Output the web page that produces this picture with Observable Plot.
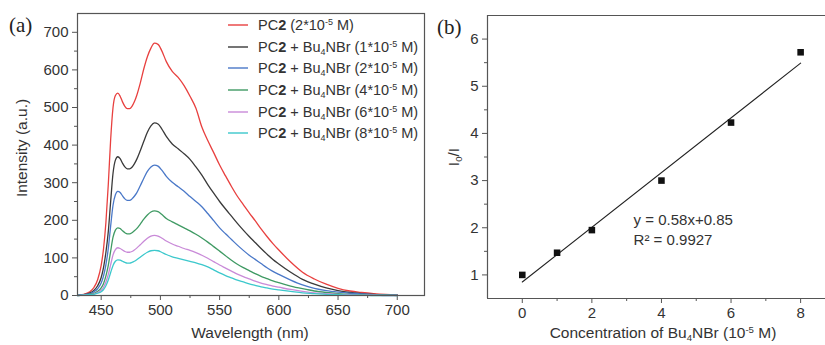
<!DOCTYPE html>
<html><head><meta charset="utf-8">
<script src="https://cdn.jsdelivr.net/npm/d3@7"></script>
<script src="https://cdn.jsdelivr.net/npm/@observablehq/plot@0.6"></script>
<style>
html,body{margin:0;padding:0;background:#fff;}
#wrap{position:relative;width:825px;height:345px;overflow:hidden;font-family:"Liberation Sans",Arial,sans-serif;color:#333;}
#wrap > svg{position:absolute;top:0;}
.lbl{position:absolute;white-space:nowrap;font-size:15.5px;line-height:1;color:#333;}
.c{transform:translate(-50%,-50%);}
.r{transform:translate(-50%,-50%) rotate(-90deg);}
.pl{position:absolute;font-family:"Liberation Serif","Times New Roman",serif;font-size:21px;line-height:1;color:#222;}
sup{font-size:0.62em;vertical-align:0.55em;line-height:0;}
sub{font-size:0.62em;vertical-align:-0.3em;line-height:0;}
.leg{position:absolute;left:228px;font-size:14.5px;line-height:1;white-space:nowrap;color:#333;}
.leg svg{display:inline-block;vertical-align:middle;margin-right:10px;position:relative;top:-1px;}
</style></head><body><div id="wrap"></div>
<script>
// ---- Panel (a): emission spectra ----
const wavelengths = [430,435,440,444,447,450,452,454,456,458,460,462,464,466,468,470,472,474,476,478,480,483,486,489,492,495,498,501,505,510,515,520,525,530,535,540,545,550,555,560,565,570,575,580,585,590,595,600,610,620,630,640,650,660,670,680,690,700];
const pc2 =    [1,3,9,22,42,80,125,195,295,415,500,532,538,530,515,503,497,497,503,515,532,565,603,635,658,671,668,652,622,596,580,558,530,498,448,412,380,347,318,290,264,242,220,199,177,157,138,121,89,62,44,30,19,12,8,5,3,2];
const bu1 =    [1,2,6,14,26,48,75,115,170,250,325,360,369,364,352,342,337,337,341,350,362,385,410,434,451,459,456,444,423,403,390,377,362,342,320,295,272,250,230,211,192,174,157,141,125,110,96,84,62,43,30,20,13,8,5,3,2,1];
const bu2 =    [1,2,4,10,18,33,52,82,125,185,240,268,277,274,265,257,253,253,257,264,273,292,312,330,342,347,344,334,317,301,289,277,263,250,236,218,199,180,164,149,134,120,107,96,85,74,64,56,41,28,19,13,9,6,4,2,1,1];
const bu4 =    [0,1,3,6,11,20,32,52,80,118,155,174,180,178,172,167,164,164,167,172,178,190,203,214,222,225,223,216,205,196,188,180,172,163,153,142,130,118,106,94,83,74,66,58,51,45,39,34,25,18,12,8,5,3,2,1,1,0];
const bu6 =    [0,1,2,4,8,14,22,36,56,82,108,122,127,125,121,117,115,115,117,121,126,135,144,152,158,160,158,153,145,137,131,125,120,114,107,99,90,81,73,65,57,50,44,38,33,29,25,22,16,11,7,5,3,2,1,1,0,0];
const bu8 =    [0,1,2,3,6,10,16,26,41,61,80,91,95,94,91,88,86,86,88,91,95,102,109,115,119,120,119,115,109,103,99,95,91,87,82,76,68,60,53,47,41,36,31,27,23,20,17,15,11,7,5,3,2,1,1,0,0,0];
const seriesNames = ["PC2","Bu1","Bu2","Bu4","Bu6","Bu8"];
const seriesColors = ["#e8403f","#3a3a3a","#4a78c8","#3f9a63","#c98ad8","#3cc8cc"];
const legendConc = ["2","1","2","4","6","8"];
const xTicksA = [450,500,550,600,650,700];
const xMinorA = [475,525,575,625,675];
const yTicksA = [0,100,200,300,400,500,600,700];
const yMinorA = [50,150,250,350,450,550,650];

// ---- Panel (b): Stern-Volmer ----
const conc = [0,1,2,4,6,8];
const ratio = [1.0,1.47,1.95,3.0,4.23,5.72];
const fitX = [0,8];
const fitY = [0.85,5.49];
const xTicksB = [0,2,4,6,8];
const xMinorB = [1,3,5,7];
const yTicksB = [1,2,3,4,5,6];
const yMinorB = [1.5,2.5,3.5,4.5,5.5];

const allSeries = [pc2,bu1,bu2,bu4,bu6,bu8];
const rows = [];
allSeries.forEach((vals,si)=>vals.forEach((v,i)=>rows.push({w:wavelengths[i],v,name:seriesNames[si]})));

const font = '"Liberation Sans",Arial,sans-serif';
const wrap = document.getElementById("wrap");
const axisColor = "#555";

const plotA = Plot.plot({
  width:430,height:345,marginLeft:77,marginRight:6,marginTop:13,marginBottom:50,
  style:{fontFamily:font,fontSize:"15px",color:"#333",background:"transparent",overflow:"visible"},
  x:{domain:[430,723]},
  y:{domain:[0,750]},
  color:{domain:seriesNames,range:seriesColors},
  marks:[
    Plot.axisX(xTicksA,{tickSize:5,tickPadding:4,label:null,stroke:axisColor}),
    Plot.axisX(xMinorA,{tickSize:3,text:null,label:null,stroke:axisColor}),
    Plot.axisY(yTicksA,{tickSize:5,tickPadding:4,label:null,stroke:axisColor}),
    Plot.axisY(yMinorA,{tickSize:3,text:null,label:null,stroke:axisColor}),
    Plot.line(rows,{x:"w",y:"v",z:"name",stroke:"name",strokeWidth:1.3,curve:"monotone-x"}),
    Plot.frame({stroke:axisColor,strokeWidth:1.2})
  ]
});
plotA.style.left="0px";
wrap.appendChild(plotA);

const fitRows = fitX.map((x,i)=>({x,y:fitY[i]}));
const ptRows = conc.map((x,i)=>({x,y:ratio[i]}));
const plotB = Plot.plot({
  width:395,height:345,marginLeft:57,marginRight:0,marginTop:15,marginBottom:47,
  style:{fontFamily:font,fontSize:"15px",color:"#333",background:"transparent",overflow:"visible"},
  x:{domain:[-1,8.715]},
  y:{domain:[0.5,6.5]},
  marks:[
    Plot.axisX(xTicksB,{tickSize:5,tickPadding:4,label:null,stroke:axisColor}),
    Plot.axisX(xMinorB,{tickSize:3,text:null,label:null,stroke:axisColor}),
    Plot.axisY(yTicksB,{tickSize:5,tickPadding:4,label:null,stroke:axisColor}),
    Plot.axisY(yMinorB,{tickSize:3,text:null,label:null,stroke:axisColor}),
    Plot.line(fitRows,{x:"x",y:"y",stroke:"#222",strokeWidth:1.1}),
    Plot.dot(ptRows,{x:"x",y:"y",symbol:"square",r:3.7,fill:"#111",stroke:"none"}),
    Plot.ruleY([0.5,6.5],{stroke:axisColor,strokeWidth:1.2}),
    Plot.ruleX([-1],{stroke:axisColor,strokeWidth:1.2}),
    Plot.text(["y = 0.58x+0.85"],{x:3.2,y:2.15,text:d=>d,textAnchor:"start",fontSize:15,fill:"#333"}),
    Plot.text(["R\u00b2 = 0.9927"],{x:3.2,y:1.74,text:d=>d,textAnchor:"start",fontSize:15,fill:"#333"})
  ]
});
plotB.style.left="430px";
wrap.appendChild(plotB);

function addHTML(html){ wrap.insertAdjacentHTML("beforeend",html); }
// panel labels
addHTML('<div class="pl" style="left:9px;top:15px">(a)</div>');
addHTML('<div class="pl" style="left:437px;top:17px">(b)</div>');
// axis titles
addHTML('<div class="lbl c" style="left:250px;top:333px">Wavelength (nm)</div>');
addHTML('<div class="lbl r" style="left:22px;top:148px">Intensity (a.u.)</div>');
addHTML('<div class="lbl c" style="left:663px;top:333px">Concentration of Bu<sub>4</sub>NBr (10<sup>-5</sup> M)</div>');
addHTML('<div class="lbl r" style="left:454px;top:157px">I<sub>0</sub>/I</div>');
// legend
const legendY = [25,47,68,90,112,133];
seriesNames.forEach((n,i)=>{
  const txt = i===0 ? 'PC<b>2</b> (' + legendConc[i] + '*10<sup>-5</sup> M)'
                    : 'PC<b>2</b> + Bu<sub>4</sub>NBr (' + legendConc[i] + '*10<sup>-5</sup> M)';
  const sw = '<svg width="20" height="4"><line x1="0" x2="20" y1="2" y2="2" stroke="'+seriesColors[i]+'" stroke-width="1.4"/></svg>';
  addHTML('<div class="leg" style="top:'+(legendY[i]-7)+'px">'+sw+txt+'</div>');
});
</script>
</body></html>
